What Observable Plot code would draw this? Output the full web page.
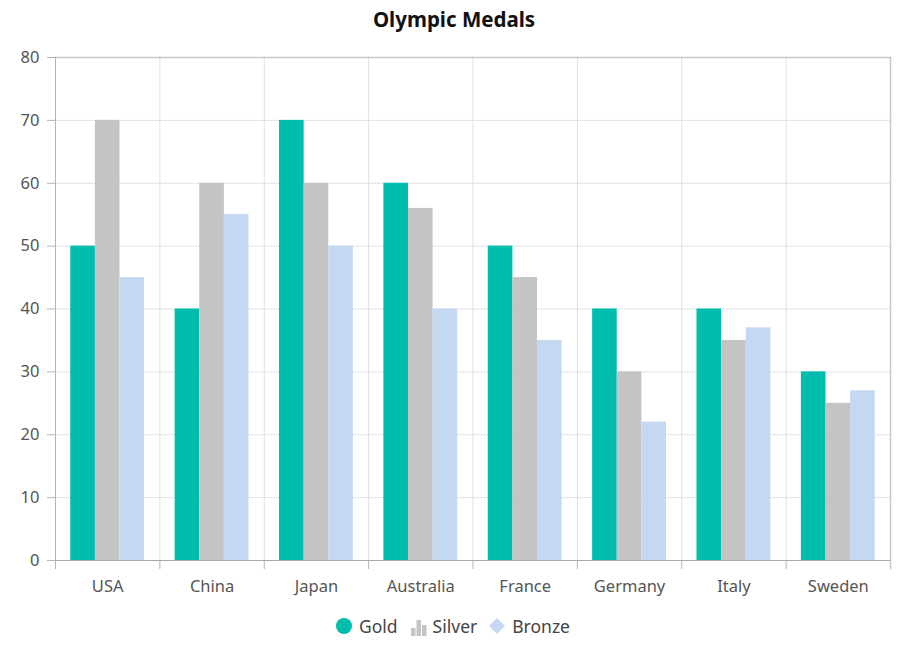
<!DOCTYPE html>
<html>
<head>
<meta charset="utf-8">
<script src="https://cdn.jsdelivr.net/npm/d3@7"></script>
<script src="https://cdn.jsdelivr.net/npm/@observablehq/plot@0.6"></script>
<style>
  html, body { margin: 0; padding: 0; background: #fff; }
  body { width: 908px; height: 646px; overflow: hidden; font-family: "Noto Sans", "Open Sans", sans-serif; }
  #title { height: 38px; line-height: 38px; text-align: center; font-size: 20.5px; font-weight: bold; color: #111; }
  #legend { display: flex; justify-content: center; align-items: center; gap: 10px; height: 41px; font-size: 17.5px; color: #444; padding-right: 4px; }
  .item { display: flex; align-items: center; gap: 5px; }
  svg { display: block; }
</style>
</head>
<body>
<div id="title">Olympic Medals</div>
<div id="chart"></div>
<div id="legend"></div>
<script>
const countries = ["USA", "China", "Japan", "Australia", "France", "Germany", "Italy", "Sweden"];
const medals = ["Gold", "Silver", "Bronze"];
const gold   = [50, 40, 70, 60, 50, 40, 40, 30];
const silver = [70, 60, 60, 56, 45, 30, 35, 25];
const bronze = [45, 55, 50, 40, 35, 22, 37, 27];
const colors = ["#00BDAE", "#C4C4C4", "#C5D8F1"];
const yTicks = [0, 10, 20, 30, 40, 50, 60, 70, 80];

const series = [gold, silver, bronze];
const data = [];
countries.forEach((c, i) => medals.forEach((m, j) => data.push({country: c, medal: m, value: series[j][i]})));

const W = 908, H = 567, mt = 19, mb = 45, ml = 55, mr = 18;
const innerH = H - mt - mb;

const chart = Plot.plot({
  width: W, height: H,
  marginTop: mt, marginBottom: mb, marginLeft: ml, marginRight: mr,
  style: {fontFamily: "'Noto Sans', 'Open Sans', sans-serif", background: "#fff", fontSize: "16px"},
  fx: {domain: countries, padding: 0, round: false, label: null},
  x: {domain: medals, paddingInner: 0, paddingOuter: 0.62, round: false, axis: null},
  y: {domain: [0, 80], label: null},
  color: {domain: medals, range: colors},
  marks: [
    Plot.gridY(yTicks, {stroke: "#e2e2e2", strokeOpacity: 1}),
    Plot.frame({anchor: "left", stroke: "#e0e0e0"}),
    Plot.barY(data, {fx: "country", x: "medal", y: "value", fill: "medal", inset: 0}),
    Plot.frame({anchor: "top", stroke: "#c8c8c8", strokeWidth: 1.5}),
    Plot.frame({anchor: "right", facetAnchor: "right", stroke: "#c8c8c8", strokeWidth: 1.5, insetBottom: -8}),
    Plot.frame({anchor: "left", facetAnchor: "left", stroke: "#b4b4b4", insetBottom: -8}),
    Plot.frame({anchor: "left", stroke: "#b4b4b4", insetTop: innerH, insetBottom: -8}),
    Plot.ruleY([0], {stroke: "#a8a8a8", strokeWidth: 1.2}),
    Plot.axisY(yTicks, {tickSize: 8, stroke: "#b4b4b4", fill: "#555", fontSize: 16.5, tickPadding: 8}),
    Plot.axisFx({anchor: "bottom", tickSize: 0, tickPadding: 20, fill: "#555", fontSize: 16.5, label: null})
  ]
});
document.getElementById("chart").appendChild(chart);

// legend
const legend = d3.select("#legend");
medals.forEach((m, j) => {
  const item = legend.append("div").attr("class", "item");
  const s = item.append("svg").attr("width", 20).attr("height", 20);
  if (j === 0) {
    s.append("circle").attr("cx", 10).attr("cy", 10).attr("r", 8).attr("fill", colors[j]);
  } else if (j === 1) {
    [[3, 12, 8], [8.5, 4, 16], [14, 9, 11]].forEach(([x, y, h]) =>
      s.append("rect").attr("x", x).attr("y", y).attr("width", 4.5).attr("height", h).attr("fill", colors[j]));
  } else {
    s.append("path").attr("d", "M10,2 L18,10 L10,18 L2,10 Z").attr("fill", colors[j]);
  }
  item.append("span").text(m);
});
</script>
</body>
</html>
